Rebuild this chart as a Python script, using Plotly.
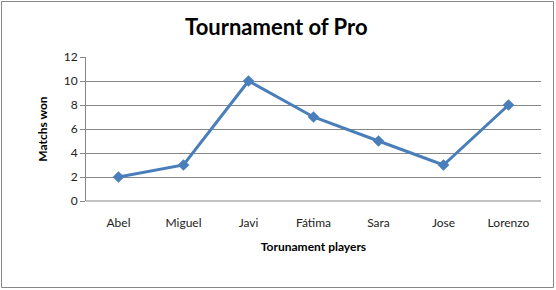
import plotly.graph_objects as go

players = ["Abel", "Miguel", "Javi", "Fátima", "Sara", "Jose", "Lorenzo"]
matches_won = [2, 3, 10, 7, 5, 3, 8]
y_ticks = [0, 2, 4, 6, 8, 10, 12]

W, H = 556, 290
L, R, T, B = 86, 15, 57, 89
pw, ph = W - L - R, H - T - B

def px_x(x):
    return (x - L) / pw

def px_y(y):
    return (H - B - y) / ph

fig = go.Figure()
fig.add_trace(go.Scatter(
    x=players, y=matches_won, mode="lines+markers",
    line=dict(color="#4A7EBB", width=3),
    marker=dict(symbol="diamond", size=9, color="#4A7EBB"),
    cliponaxis=False,
))

font = "Lato, 'Open Sans', sans-serif"
fig.update_layout(
    width=W, height=H,
    margin=dict(l=L, r=R, t=T, b=B),
    paper_bgcolor="white", plot_bgcolor="white",
    showlegend=False,
    font=dict(family=font, size=11, color="#000000"),
    title=dict(text="<b>Tournament of Pro</b>", x=0.497, xanchor="center",
               y=1 - 27 / H, yanchor="middle",
               font=dict(family=font, size=22, color="#000000")),
    xaxis=dict(
        showgrid=False, showline=False, zeroline=False,
        ticks="", ticklabelstandoff=13,
        tickfont=dict(size=12, color="#222222"),
        title=dict(text="<b>Torunament players</b>", standoff=13,
                   font=dict(size=12, color="#000000")),
        range=[-0.5, 6.5],
    ),
    yaxis=dict(
        range=[0, 12], tickvals=y_ticks, showgrid=True, gridcolor="#868686", gridwidth=1,
        showline=True, linecolor="#868686", linewidth=1, zeroline=False,
        ticks="outside", ticklen=5, tickcolor="#868686",
        tickfont=dict(size=12, color="#222222"),
        title=dict(text="<b>Matchs won</b>", standoff=13,
                   font=dict(size=12, color="#000000")),
    ),
    shapes=[
        dict(type="rect", xref="paper", yref="paper",
             x0=px_x(1.5), x1=px_x(553.5), y0=px_y(287.5), y1=px_y(1.5),
             line=dict(color="#868686", width=1), fillcolor="rgba(0,0,0,0)", layer="below"),
        dict(type="line", xref="paper", yref="paper",
             x0=0, x1=1, y0=0, y1=0, line=dict(color="#868686", width=1)),
    ],
)

fig.write_html("out.html")
